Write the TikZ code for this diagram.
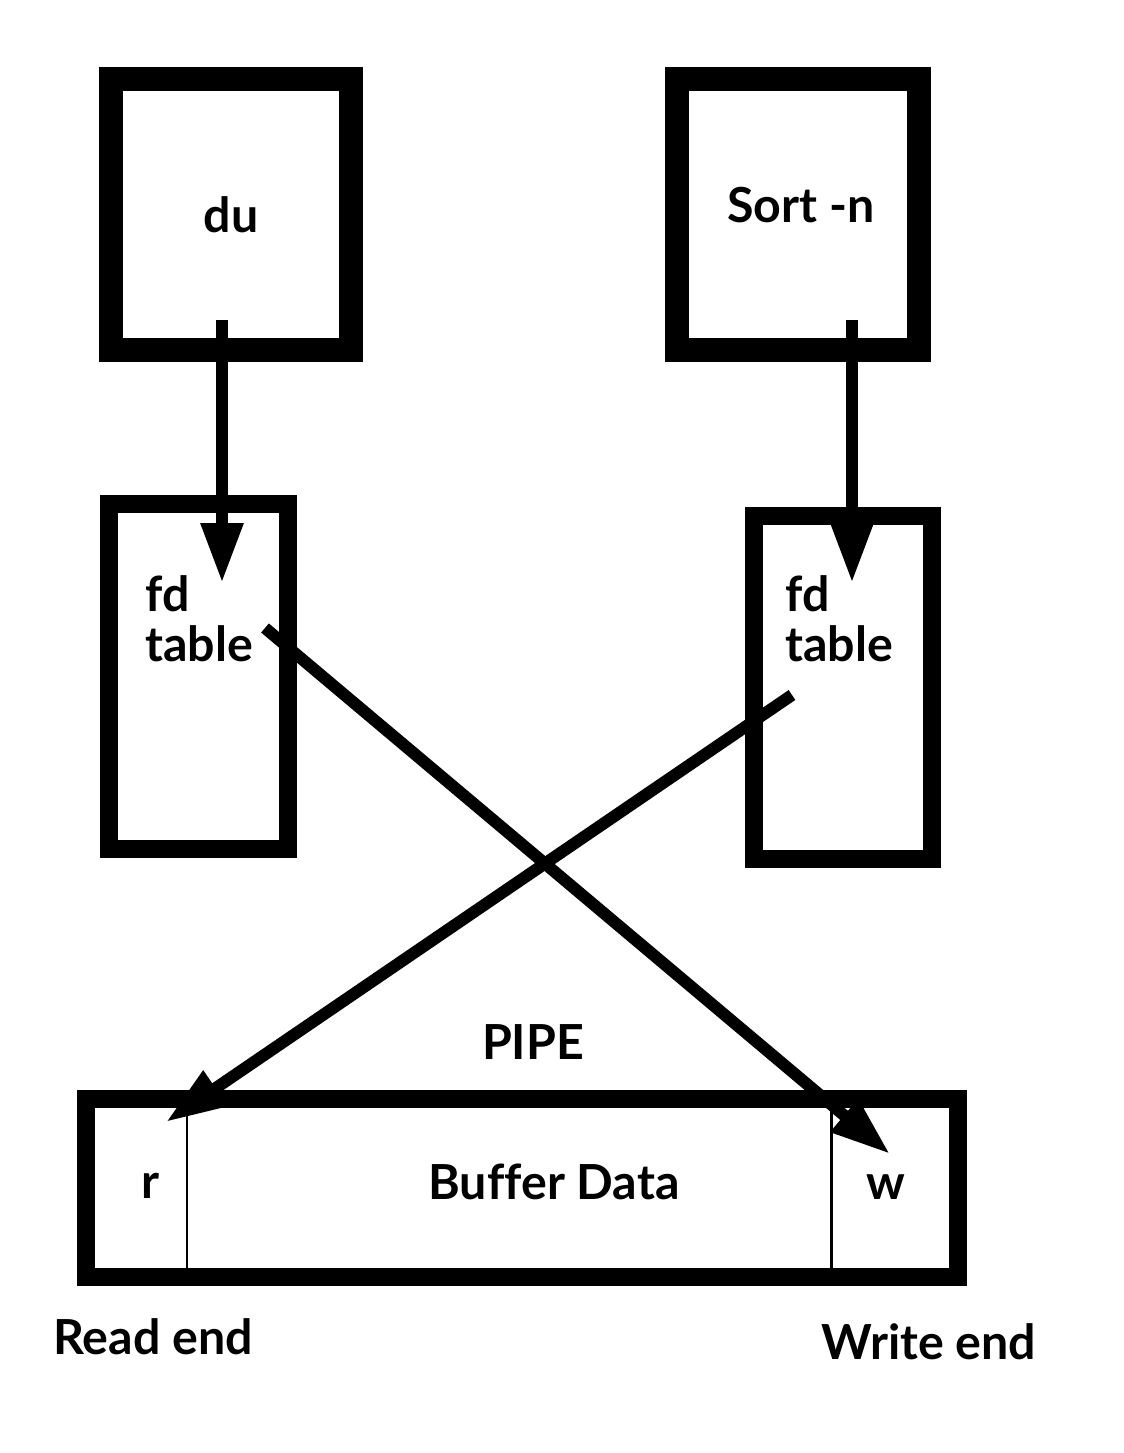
\documentclass[tikz,border=0pt]{standalone}
\usepackage{fontspec}
\setmainfont{Lato}[Ligatures=NoCommon]
\usepackage{tikz}
\usetikzlibrary{arrows.meta, positioning, calc}
\newcommand{\lblfont}{\fontsize{27.5}{28.5}\selectfont\bfseries}
\tikzset{
  procbox/.style={rectangle, draw=black, line width=13.6pt,
    minimum width=4.8cm, minimum height=5.42cm, inner sep=0pt, font=\lblfont},
  fdbox/.style={rectangle, draw=black, line width=10.2pt,
    minimum width=3.58cm, minimum height=6.9cm, inner sep=0pt},
  pipebox/.style={rectangle, draw=black, line width=10.2pt,
    minimum width=17.44cm, minimum height=3.56cm, inner sep=0pt},
  lbl/.style={font=\lblfont, inner sep=0pt},
  arrow/.style={-{Triangle[length=1.2cm, width=0.8cm]}, line width=6.8pt, color=black},
  divider/.style={line width=1.7pt, color=black}
}

\begin{document}
\begin{tikzpicture}[x=0.02cm, y=-0.02cm]
  \useasboundingbox (0,0) rectangle (1123,1453);

  \node[procbox] (du) at (231,214.5) {du};
  \node[procbox, minimum width=4.84cm] (sort) at (798,214.5) {};
  \node[lbl, anchor=base] (sorttxt) at (801,223) {Sort -n};
  \node[fdbox] (fdl) at (198.5,676.5) {};
  \node[fdbox, minimum width=3.56cm, minimum height=6.86cm] (fdr) at (843,687.5) {};
  \node[lbl, align=left, anchor=north west] (fdltxt) at (145,575) {fd\\table};
  \node[lbl, align=left, anchor=north west] (fdrtxt) at (785,575) {fd\\table};

  \node[pipebox] (pipe) at (522,1188) {};
  \coordinate (rsep) at (187,1188);
  \coordinate (wsep) at (831,1188);
  \draw[divider] (pipe.north -| rsep) -- (pipe.south -| rsep);
  \draw[divider] (pipe.north -| wsep) -- (pipe.south -| wsep);
  \node[lbl, anchor=base] (pipelbl) at (533,1059) {PIPE};
  \node[lbl, anchor=base] (r) at (151,1198) {r};
  \node[lbl, anchor=base] (buf) at (554,1199) {Buffer Data};
  \node[lbl, anchor=base] (w) at (886,1199) {w};
  \node[lbl, anchor=base] (readend) at (153,1354) {Read end};
  \node[lbl, anchor=base] (writeend) at (929,1359) {Write end};

  \coordinate (duport) at (222,320);
  \coordinate (fdlin) at (222,583);
  \coordinate (sortport) at (852,320);
  \coordinate (fdrin) at (852,583);
  \coordinate (fdlout) at (265,628);
  \coordinate (wport) at (890,1154);
  \coordinate (fdrout) at (792,695);
  \coordinate (rport) at (166,1122);

  \draw[arrow] (duport) -- (fdlin);
  \draw[arrow] (sortport) -- (fdrin);
  \draw[arrow] (fdlout) -- (wport);
  \draw[arrow] (fdrout) -- (rport);
\end{tikzpicture}
\end{document}
